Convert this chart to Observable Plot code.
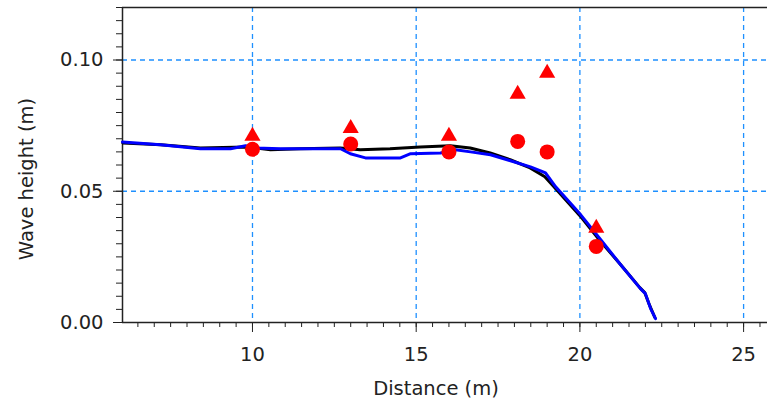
<!DOCTYPE html>
<html>
<head>
<meta charset="utf-8">
<script src="https://cdn.jsdelivr.net/npm/d3@7"></script>
<script src="https://cdn.jsdelivr.net/npm/@observablehq/plot@0.6"></script>
<style>
  html, body { margin: 0; padding: 0; background: #fff; }
  #chart svg { display: block; }
</style>
</head>
<body>
<div id="chart"></div>
<script>
// Axis domains and ticks
const xDomain = [6.03, 25.73];
const yDomain = [0, 0.12];
const xTicks = [10, 15, 20, 25];
const yTicks = [0, 0.05, 0.10];
const xMinorTicks = d3.range(6.5, 25.75, 0.5);
const yMinorTicks = d3.range(0, 0.1201, 0.005);

// Black line (measured / model 1)
const blackX = [6.04, 7.2, 8.41, 9.79, 10.55, 11.46, 12.68, 13.29, 14.2, 15.12, 16.04, 16.65, 17.26, 17.87, 18.48, 18.93, 19.33, 20.0, 20.61, 21.22, 21.83, 21.98, 22.13, 22.29];
const blackY = [0.0684, 0.0677, 0.0665, 0.0669, 0.0658, 0.0662, 0.0665, 0.0658, 0.0662, 0.0669, 0.0673, 0.0665, 0.0646, 0.062, 0.0589, 0.0555, 0.0500, 0.0407, 0.0312, 0.0224, 0.0133, 0.0114, 0.0065, 0.0019];

// Blue line (model 2)
const blueX = [6.03, 7.19, 8.41, 9.33, 9.79, 10.09, 10.86, 12.69, 12.99, 13.45, 14.52, 14.83, 15.74, 16.2, 16.66, 17.27, 17.88, 18.49, 18.8, 18.95, 19.26, 20.02, 20.63, 21.24, 21.85, 22.0, 22.16, 22.31];
const blueY = [0.0688, 0.0677, 0.0662, 0.0662, 0.0673, 0.0665, 0.0662, 0.0662, 0.0643, 0.0627, 0.0627, 0.0643, 0.0646, 0.0658, 0.065, 0.0639, 0.0616, 0.0593, 0.0578, 0.057, 0.0517, 0.0411, 0.0316, 0.0221, 0.0129, 0.011, 0.0053, 0.0015];

// Observations
const obsX = [10, 13, 16, 18.1, 19, 20.5];
const triY = [0.071, 0.074, 0.071, 0.087, 0.095, 0.036];
const circY = [0.066, 0.068, 0.065, 0.069, 0.065, 0.029];

const black = blackX.map((x, i) => ({x, y: blackY[i]}));
const blue = blueX.map((x, i) => ({x, y: blueY[i]}));
const tri = obsX.map((x, i) => ({x, y: triY[i]}));
const circ = obsX.map((x, i) => ({x, y: circY[i]}));

const font = "'DejaVu Sans', Verdana, sans-serif";
const gridColor = "#1E90FF";

const chart = Plot.plot({
  width: 767,
  height: 407,
  marginLeft: 122,
  marginRight: 0,
  marginTop: 7,
  marginBottom: 85,
  style: {fontFamily: font, fontSize: "19.5px", color: "#222", background: "#fff"},
  x: {domain: xDomain, axis: null},
  y: {domain: yDomain, axis: null},
  marks: [
    Plot.gridX(xTicks, {stroke: gridColor, strokeOpacity: 1, strokeWidth: 1.3, strokeDasharray: "5,4"}),
    Plot.gridY(yTicks.filter(d => d > 0), {stroke: gridColor, strokeOpacity: 1, strokeWidth: 1.3, strokeDasharray: "5,4"}),
    // minor ticks
    Plot.axisX(xMinorTicks, {tickSize: 5, text: null, label: null, stroke: "#222"}),
    Plot.axisY(yMinorTicks, {tickSize: 6, text: null, label: null, stroke: "#222"}),
    // major ticks with labels
    Plot.axisX(xTicks, {tickSize: 10, tickPadding: 15, tickFormat: d => String(d), label: null, stroke: "#222", fill: "#222"}),
    Plot.axisY(yTicks, {tickSize: 9, tickPadding: 10, tickFormat: d3.format(".2f"), label: null, stroke: "#222", fill: "#222"}),
    // frame lines
    Plot.ruleX([xDomain[0]], {stroke: "#222", strokeWidth: 1.5}),
    Plot.ruleY([yDomain[0]], {stroke: "#222", strokeWidth: 1.5}),
    Plot.ruleY([yDomain[1]], {stroke: "#222", strokeWidth: 1.5}),
    // series
    Plot.line(black, {x: "x", y: "y", stroke: "#000", strokeWidth: 3}),
    Plot.line(blue, {x: "x", y: "y", stroke: "#0000FF", strokeWidth: 3}),
    Plot.dot(tri, {x: "x", y: "y", symbol: "triangle", r: 6, fill: "#FF0000", stroke: "none"}),
    Plot.dot(circ, {x: "x", y: "y", symbol: "circle", r: 7.5, fill: "#FF0000", stroke: "none"}),
    // axis labels
    Plot.text(["Distance (m)"], {frameAnchor: "bottom", text: d => d, dy: 72, dx: -9, fill: "#222", fontSize: 19.5}),
    Plot.text(["Wave height (m)"], {frameAnchor: "left", textAnchor: "middle", text: d => d, rotate: -90, dx: -96, dy: 14, fill: "#222", fontSize: 19.5})
  ]
});

document.getElementById("chart").appendChild(chart);
</script>
</body>
</html>
